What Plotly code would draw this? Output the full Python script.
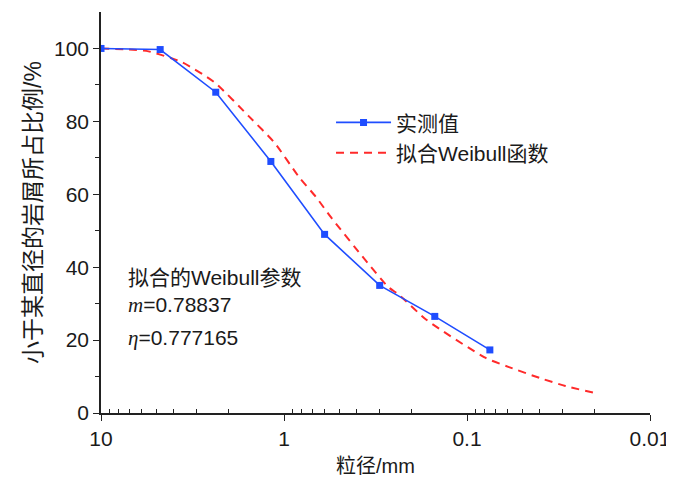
import math
import plotly.graph_objects as go

# Measured data (sieve sizes, mm) and cumulative passing (%)
size_measured = [10, 4.75, 2.36, 1.18, 0.6, 0.3, 0.15, 0.075]
pct_measured = [100, 99.7, 88, 69, 49, 35, 26.5, 17.3]

# Fitted Weibull curve
size_fit = [10, 7, 5.5, 3.6, 2.4, 1.55, 1.13, 0.83, 0.67, 0.55, 0.36, 0.27, 0.235,
            0.166, 0.079, 0.059, 0.04, 0.029, 0.02]
pct_fit = [100, 99.7, 99.2, 96.2, 90.7, 81.3, 74.2, 64.8, 59.3, 53.5, 42.0, 34.6, 32.4,
           25.5, 15.1, 12.6, 9.6, 7.4, 5.5]

x_tickvals = [10, 1, 0.1, 0.01]
x_ticktext = ["10", "1", "0.1", "0.01"]
x_minorvals = [m * d for d in (1, 0.1, 0.01) for m in (2, 3, 4, 5, 6, 7, 8, 9)]
y_tickvals = [0, 20, 40, 60, 80, 100]
y_minorvals = [10, 30, 50, 70, 90]

FONT = "Arial, Liberation Sans, Noto Sans CJK SC, sans-serif"
TXT = "#1a1a1a"

fig = go.Figure()
fig.add_trace(go.Scatter(
    x=size_fit, y=pct_fit, mode="lines", name="拟合Weibull函数", legendrank=2,
    line=dict(color="#ff2a2a", width=2, dash="8px,6px", shape="spline", smoothing=0.6),
))
fig.add_trace(go.Scatter(
    x=size_measured, y=pct_measured, mode="lines+markers", name="实测值", legendrank=1,
    line=dict(color="#1f4dff", width=1.6),
    marker=dict(symbol="square", size=7, color="#1f4dff"),
))
# empty helper trace so the minor-tick axis (log10 space) is drawn
fig.add_trace(go.Scatter(x=[], y=[], xaxis="x2", yaxis="y", showlegend=False,
                         hoverinfo="skip"))

fig.update_layout(
    width=666, height=470,
    margin=dict(l=93, r=22, t=4, b=65),
    paper_bgcolor="white", plot_bgcolor="white",
    font=dict(family=FONT, size=21, color=TXT),
    showlegend=True,
    legend=dict(x=0.419, y=0.775, xanchor="left", yanchor="top",
                bgcolor="rgba(0,0,0,0)", font=dict(size=21, color=TXT),
                traceorder="normal", itemwidth=55),
    xaxis=dict(
        type="log", range=[1, -2],
        tickmode="array", tickvals=x_tickvals, ticktext=x_ticktext,
        ticks="outside", ticklen=6, tickwidth=1.2, tickcolor="#222",
        showline=True, linecolor="#222", linewidth=1.5,
        showgrid=False, zeroline=False, ticklabeloverflow="allow",
        tickfont=dict(size=21, color=TXT),
        title=dict(text="粒径/mm", font=dict(size=20, color=TXT), standoff=10),
    ),
    xaxis2=dict(type="linear", range=[1, -2], overlaying="x", anchor="y", side="bottom",
                tickmode="array", tickvals=[math.log10(v) for v in x_minorvals],
                ticks="inside", ticklen=4, tickwidth=1, tickcolor="#222",
                showticklabels=False, showline=False, showgrid=False, zeroline=False),
)

fig.update_yaxes(
    range=[0, 110],
    tickmode="array", tickvals=y_tickvals,
    ticks="outside", ticklen=6, tickwidth=1.2, tickcolor="#222",
    showline=True, linecolor="#222", linewidth=1.5,
    showgrid=False, zeroline=False,
    minor=dict(ticks="outside", ticklen=4, tickwidth=1, tickcolor="#222",
               tickvals=y_minorvals, showgrid=False),
    tickfont=dict(size=21, color=TXT),
    title=dict(text="小于某直径的岩屑所占比例/%", font=dict(size=23, color=TXT), standoff=6),
)

ann_lines = ["拟合的Weibull参数",
             "<i><span style='font-family:Liberation Serif, Times New Roman, serif'>m</span></i>=0.78837",
             "<i><span style='font-family:Liberation Serif, Times New Roman, serif'>η</span></i>=0.777165"]
ann_y = [37.2, 29.6, 20.6]
for t, yy in zip(ann_lines, ann_y):
    fig.add_annotation(x=0.045, xref="paper", y=yy, yref="y", text=t, showarrow=False,
                       xanchor="left", yanchor="middle", font=dict(size=21, color=TXT))

fig.write_html("out.html")
